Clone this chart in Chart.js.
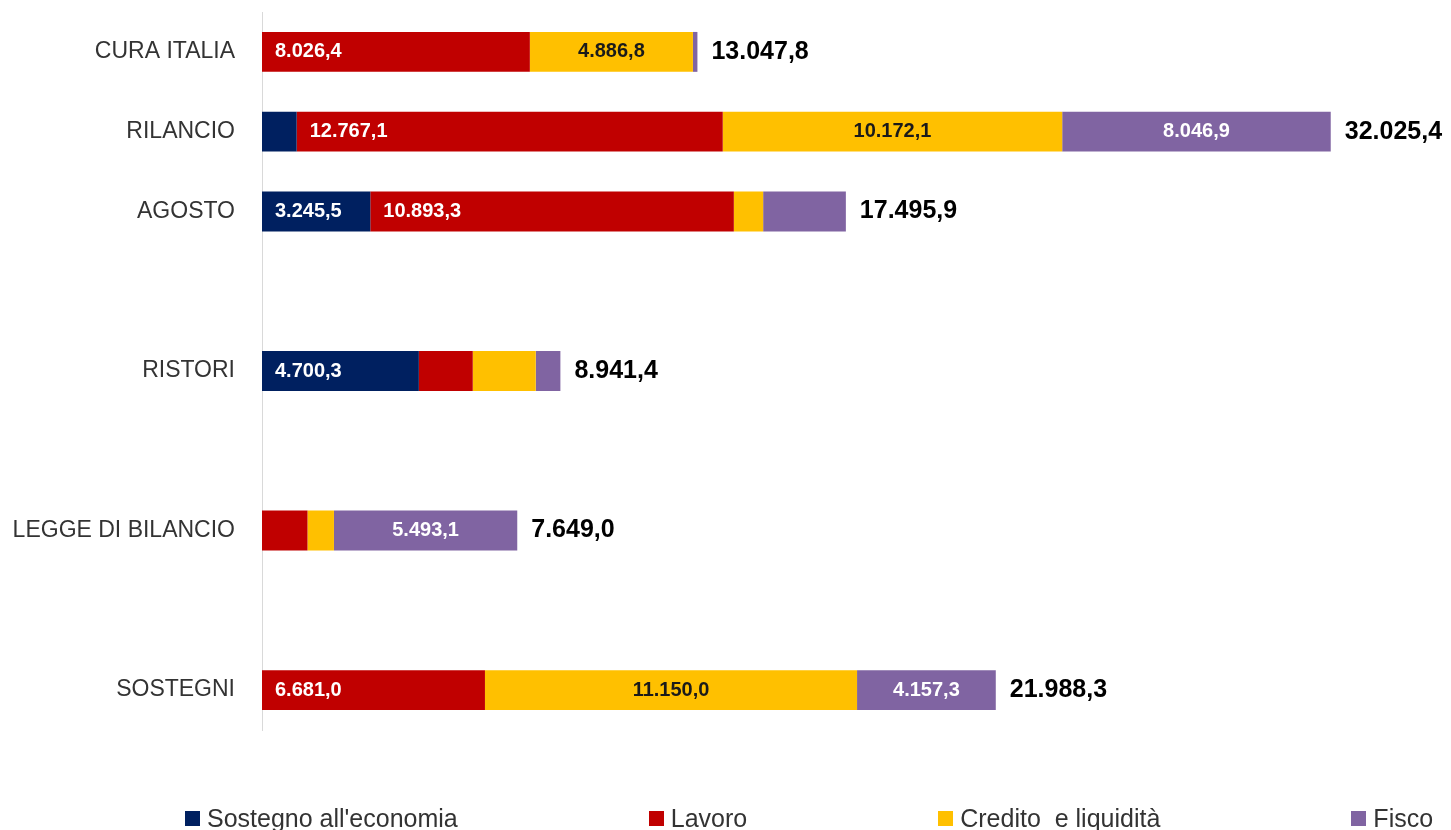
<!DOCTYPE html>
<html>
<head>
<meta charset="utf-8">
<title>Misure per decreto</title>
<script src="https://cdn.jsdelivr.net/npm/chart.js@4.4.1/dist/chart.umd.min.js"></script>
<style>
    html, body { margin: 0; padding: 0; background: #fff; overflow: hidden; }
    #wrap { position: relative; width: 1451px; height: 830px; }
    #legend {
        position: absolute; left: 185px; top: 804px;
        display: flex; gap: 191px;
        font-family: "Liberation Sans", Arial, sans-serif; font-size: 25px; color: #333;
        white-space: pre;
    }
    .item { display: flex; align-items: center; }
    .swatch { width: 15px; height: 15px; margin-right: 7px; }
</style>
</head>
<body>
<div id="wrap">
    <canvas id="chart"></canvas>
    <div id="legend"></div>
</div>
<script>
// empty strings are the blank rows between groups
const categories = ['CURA ITALIA', 'RILANCIO', 'AGOSTO', '', 'RISTORI', '', 'LEGGE DI BILANCIO', '', 'SOSTEGNI'];
const seriesNames = ["Sostegno all'economia", 'Lavoro', 'Credito  e liquidità', 'Fisco'];
const seriesColors = ['#002060', '#C00000', '#FFC000', '#8064A2'];

const sostegno = [0, 1039.3, 3245.5, null, 4700.3, null, 0, null, 0];
const lavoro   = [8026.4, 12767.1, 10893.3, null, 1615.0, null, 1363.0, null, 6681.0];
const credito  = [4886.8, 10172.1, 878.4, null, 1888.0, null, 792.9, null, 11150.0];
const fisco    = [134.6, 8046.9, 2478.7, null, 738.1, null, 5493.1, null, 4157.3];
const series = [sostegno, lavoro, credito, fisco];

const xMax = 35000;
const labelMin = 3000; // smaller segments carry no label

const FONT = '"Liberation Sans", Arial, sans-serif';

function fmt(v) {
    const [int, dec] = v.toFixed(1).split('.');
    return int.replace(/\B(?=(\d{3})+(?!\d))/g, '.') + ',' + dec;
}

const barLabels = {
    id: 'barLabels',
    afterDatasetsDraw(chart) {
        const ctx = chart.ctx;
        const xs = chart.scales.x, ys = chart.scales.y;
        ctx.save();
        ctx.textBaseline = 'middle';
        ctx.font = 'bold 20px ' + FONT;
        chart.data.datasets.forEach((ds, d) => {
            chart.getDatasetMeta(d).data.forEach((bar, i) => {
                const v = ds.data[i];
                if (v == null || v < labelMin) return;
                ctx.fillStyle = d === 2 ? '#1a1a1a' : '#fff';
                if (d < 2) {
                    ctx.textAlign = 'left';
                    ctx.fillText(fmt(v), bar.base + 13, bar.y);
                } else {
                    ctx.textAlign = 'center';
                    ctx.fillText(fmt(v), (bar.base + bar.x) / 2, bar.y);
                }
            });
        });

        // totals at the end of each bar
        ctx.font = 'bold 25px ' + FONT;
        ctx.fillStyle = '#000';
        ctx.textAlign = 'left';
        categories.forEach((c, i) => {
            if (!c) return;
            const total = series.reduce((s, arr) => s + (arr[i] || 0), 0);
            ctx.fillText(fmt(total), xs.getPixelForValue(total) + 14, ys.getPixelForValue(i));
        });
        ctx.restore();
    }
};

new Chart(document.getElementById('chart'), {
    type: 'bar',
    data: {
        labels: categories,
        datasets: series.map((data, k) => ({
            label: seriesNames[k],
            data: data,
            backgroundColor: seriesColors[k],
            borderWidth: 0,
            categoryPercentage: 0.5,
            barPercentage: 1.0
        }))
    },
    options: {
        indexAxis: 'y',
        responsive: true,
        maintainAspectRatio: false,
        animation: false,
        events: [],
        layout: { padding: { top: 12, bottom: 100, left: 0, right: 21 } },
        plugins: { legend: { display: false }, tooltip: { enabled: false } },
        scales: {
            x: { stacked: true, display: false, min: 0, max: xMax },
            y: {
                stacked: true,
                grid: { display: false, drawTicks: false },
                border: { display: true, color: '#d9d9d9', width: 1 },
                ticks: { autoSkip: false, padding: 27, color: '#333', font: { family: FONT, size: 23 } },
                afterFit(scale) {
                    scale.width = 262;
                    // the tick padding must not push the plot down
                    scale.paddingTop = 0;
                    scale.paddingBottom = 0;
                }
            }
        }
    },
    plugins: [barLabels]
});

// legend
document.getElementById('legend').innerHTML = seriesNames.map((name, k) =>
    `<div class="item"><span class="swatch" style="background:${seriesColors[k]}"></span><span>${name}</span></div>`
).join('');
</script>
</body>
</html>
